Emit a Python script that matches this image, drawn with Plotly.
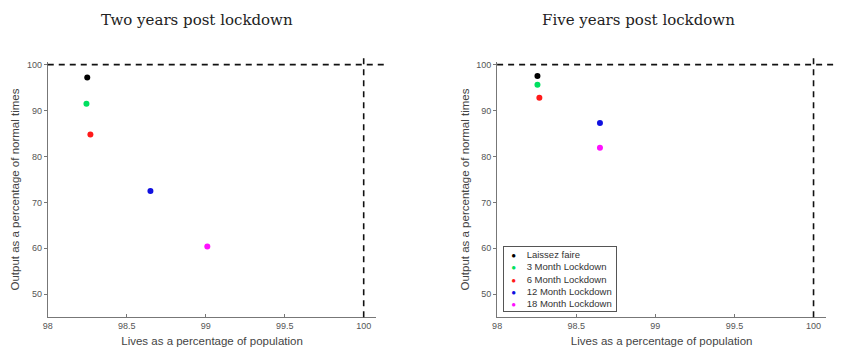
import plotly.graph_objects as go
from plotly.subplots import make_subplots

# Scenario names and marker colours
scenarios = ["Laissez faire", "3 Month Lockdown", "6 Month Lockdown",
             "12 Month Lockdown", "18 Month Lockdown"]
colors = ["#000000", "#00e060", "#ff1a1a", "#1010e0", "#ff10ff"]

# Two years after the lockdown
lives_2y = [98.25, 98.245, 98.27, 98.65, 99.01]
output_2y = [97.2, 91.5, 84.8, 72.5, 60.4]

# Five years after the lockdown
lives_5y = [98.255, 98.255, 98.267, 98.65, 98.65]
output_5y = [97.5, 95.6, 92.8, 87.3, 81.9]

panel_titles = ["Two years post lockdown", "Five years post lockdown"]
x_ticks = [98, 98.5, 99, 99.5, 100]
x_tick_text = ["98", "98.5", "99", "99.5", "100"]
y_ticks = [50, 60, 70, 80, 90, 100]

W, H = 860, 355
fig = make_subplots(rows=1, cols=2)

panels = [(lives_2y, output_2y), (lives_5y, output_5y)]
for col, (xs, ys) in enumerate(panels, start=1):
    for name, c, xv, yv in zip(scenarios, colors, xs, ys):
        fig.add_trace(go.Scatter(x=[xv], y=[yv], mode="markers", name=name,
                                 showlegend=False,
                                 marker=dict(color=c, size=6, line=dict(width=0))),
                      row=1, col=col)

# axis placement in pixels
x_dom = [(43, 373.5), (495, 826)]
y_bottom, y_top = 317, 60.2
ax_font = dict(family="Liberation Sans, Arial, sans-serif", size=9, color="#555555")
title_font = dict(family="Liberation Sans, Arial, sans-serif", size=11.5, color="#444444")

for i, (x0, x1) in enumerate(x_dom):
    xa = "xaxis" if i == 0 else "xaxis2"
    ya = "yaxis" if i == 0 else "yaxis2"
    fig.layout[xa].update(domain=[x0 / W, x1 / W], range=[98, 100.08],
                          tickvals=x_ticks, ticktext=x_tick_text,
                          showgrid=False, zeroline=False, showline=True,
                          linecolor="#777777", linewidth=1, mirror=False,
                          ticks="inside", ticklen=3, tickcolor="#777777",
                          tickfont=ax_font,
                          title=dict(text="Lives as a percentage of population",
                                     font=title_font, standoff=6))
    fig.layout[ya].update(domain=[1 - y_bottom / H, 1 - y_top / H], range=[45, 100.6],
                          tickvals=y_ticks, showgrid=False, zeroline=False,
                          showline=True, linecolor="#777777", linewidth=1,
                          mirror=False, ticks="outside", ticklen=3,
                          tickcolor="#777777", tickfont=ax_font,
                          title=dict(text="Output as a percentage of normal times",
                                     font=title_font, standoff=4))

    xr = "x" if i == 0 else "x2"
    yr = "y" if i == 0 else "y2"
    # dashed reference lines at 100% output and 100% lives
    fig.add_shape(type="line", xref=f"{xr} domain", yref=yr,
                  x0=0, x1=1.03, y0=100, y1=100,
                  line=dict(color="#111111", width=1.6, dash="6px,5px"))
    fig.add_shape(type="line", xref=xr, yref=f"{yr} domain",
                  x0=100, x1=100, y0=0, y1=1.024,
                  line=dict(color="#111111", width=1.6, dash="6px,5px"))

# panel titles
title_x = [193, 637]
for t, px in zip(panel_titles, title_x):
    fig.add_annotation(text=t, xref="paper", yref="paper", x=px / W, y=1 - 18 / H,
                       xanchor="center", yanchor="middle", showarrow=False,
                       font=dict(family="DejaVu Serif, Liberation Serif, serif",
                                 size=15, color="#222222"))

# key for the scenarios in the right panel
nb = "\u00a0"
rows = [f'{nb * 2}<span style="color:{c};font-size:8px">●</span>{nb * 4}{s}{nb}'
        for s, c in zip(scenarios, colors)]
fig.add_annotation(text="<br>".join(rows), xref="paper", yref="paper",
                   x=501 / W, y=1 - 312 / H, xanchor="left", yanchor="bottom",
                   align="left", showarrow=False, bgcolor="white",
                   bordercolor="#555555", borderwidth=1, borderpad=2,
                   font=dict(family="Liberation Sans, Arial, sans-serif",
                             size=9.5, color="#333333"))

fig.update_layout(width=W, height=H, margin=dict(l=0, r=0, t=0, b=0),
                  paper_bgcolor="white", plot_bgcolor="white", showlegend=False)

fig.write_html("out.html")
